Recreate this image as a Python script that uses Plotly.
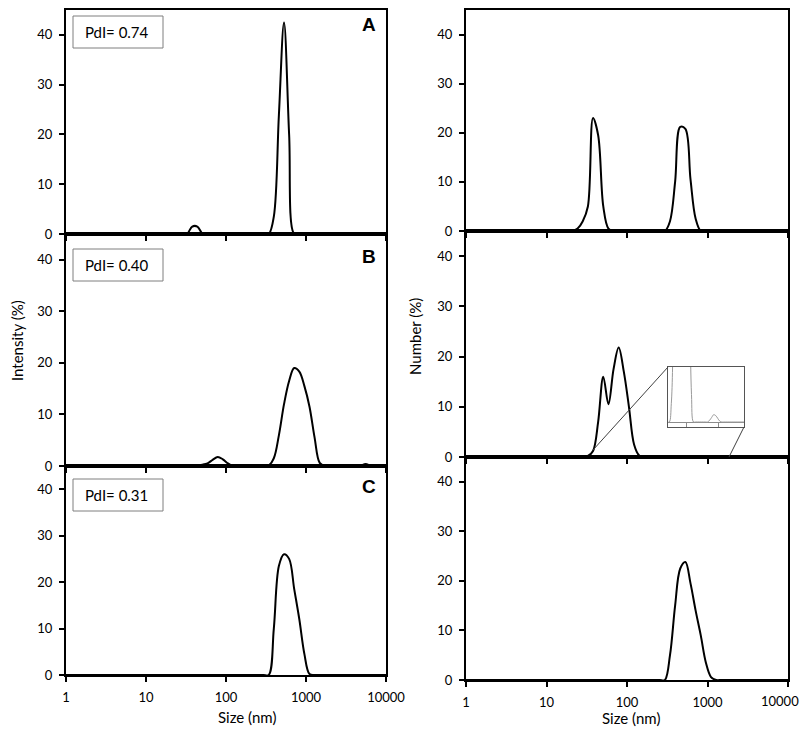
import plotly.graph_objects as go

# size classes (nm) of the DLS instrument
SIZE_NM = [
    0.9649, 1.117, 1.294, 1.499, 1.736, 2.010, 2.328, 2.696,
    3.122, 3.615, 4.187, 4.849, 5.615, 6.503, 7.531, 8.721,
    10.10, 11.70, 13.54, 15.69, 18.17, 21.04, 24.36, 28.21,
    32.67, 37.84, 43.82, 50.75, 58.77, 68.06, 78.82, 91.28,
    105.7, 122.4, 141.8, 164.2, 190.1, 220.2, 255.0, 295.3,
    342.0, 396.1, 458.7, 531.2, 615.1, 712.4, 825.0, 955.4,
    1106, 1281, 1484, 1718, 1990, 2305, 2669, 3091,
    3580, 4145, 4801, 5560, 6439, 7456, 8635, 10000,
]

# intensity distributions (%)
INT_A = [
    0, 0, 0, 0, 0, 0, 0, 0,
    0, 0, 0, 0, 0, 0, 0, 0,
    0, 0, 0, 0, 0, 0, 0, 0,
    0.05, 1.5, 1.5, 0.1, 0, 0, 0, 0,
    0, 0, 0, 0, 0, 0, 0, 0,
    0, 3.5, 24, 42.5, 20, 0, 0, 0,
    0, 0, 0, 0, 0, 0, 0, 0,
    0, 0, 0, 0, 0, 0, 0, 0,
]
INT_B = [
    0, 0, 0, 0, 0, 0, 0, 0,
    0, 0, 0, 0, 0, 0, 0, 0,
    0, 0, 0, 0, 0, 0, 0, 0,
    0.05, 0.1, 0.15, 0.25, 0.5, 1.2, 1.75, 1.3,
    0.5, 0, 0, 0, 0, 0, 0, 0,
    0.1, 1.5, 6, 12, 16.5, 19, 18.3, 15.5,
    11.5, 5.5, 0.6, 0, 0, 0, 0, 0,
    0, 0, 0, 0.4, 0, 0, 0, 0,
]
INT_C = [
    0, 0, 0, 0, 0, 0, 0, 0,
    0, 0, 0, 0, 0, 0, 0, 0,
    0, 0, 0, 0, 0, 0, 0, 0,
    0, 0, 0, 0, 0, 0, 0, 0,
    0, 0, 0, 0, 0, 0, 0, 0,
    0, 10, 23.5, 26, 25, 18.5, 12, 4.5,
    0.2, 0, 0, 0, 0, 0, 0, 0,
    0, 0, 0, 0, 0, 0, 0, 0,
]

# number distributions (%)
NUM_A = [
    0, 0, 0, 0, 0, 0, 0, 0,
    0, 0, 0, 0, 0, 0, 0, 0,
    0, 0, 0, 0, 0, 0, 0.5, 2,
    5, 23, 19.5, 5, 0.5, 0, 0, 0,
    0, 0, 0, 0, 0, 0, 0, 0,
    2, 10, 21.2, 20.8, 10.5, 2.5, 0, 0,
    0, 0, 0, 0, 0, 0, 0, 0,
    0, 0, 0, 0, 0, 0, 0, 0,
]
NUM_B = [
    0, 0, 0, 0, 0, 0, 0, 0,
    0, 0, 0, 0, 0, 0, 0, 0,
    0, 0, 0, 0, 0, 0, 0, 0,
    0.2, 1.2, 7, 16, 10.5, 17.5, 21.8, 17,
    10, 2.5, 0.3, 0, 0, 0, 0, 0,
    0, 0, 0, 0.02, 0.05, 0.08, 0.07, 0.04,
    0.01, 0, 0, 0, 0, 0, 0, 0,
    0, 0, 0, 0, 0, 0, 0, 0,
]
NUM_C = [
    0, 0, 0, 0, 0, 0, 0, 0,
    0, 0, 0, 0, 0, 0, 0, 0,
    0, 0, 0, 0, 0, 0, 0, 0,
    0, 0, 0, 0, 0, 0, 0, 0,
    0, 0, 0, 0, 0, 0, 0, 0,
    5, 15, 22.5, 23.8, 19.5, 14, 9, 3.5,
    0.6, 0, 0, 0, 0, 0, 0, 0,
    0, 0, 0, 0, 0, 0, 0, 0,
]

PDI_LABELS = ["PdI= 0.74", "PdI= 0.40", "PdI= 0.31"]
PANEL_LETTERS = ["A", "B", "C"]
X_TICKS = [1, 10, 100, 1000, 10000]
Y_TICKS = [0, 10, 20, 30, 40]

# page is 809x737; the body keeps its 8px margin, so the figure is 16px smaller
PAGE_W, PAGE_H, BODY = 809, 737, 8
W, H = PAGE_W - 2 * BODY, PAGE_H - 2 * BODY
FONT = "Lato, 'Open Sans', sans-serif"
TEXT = {"size": 15, "color": "black", "family": FONT}


def px(x):
    # page pixel -> paper x
    return (x - BODY) / W


def py(y):
    # page pixel -> paper y
    return min(1.0, 1 - (y - BODY) / H)


fig = go.Figure()

# (series, x-domain in px, y-domain in px (top, bottom))
panels = [
    (INT_A, (66, 386), (10, 234)),
    (INT_B, (66, 386), (234, 466)),
    (INT_C, (66, 386), (466, 675)),
    (NUM_A, (466, 788), (10, 231)),
    (NUM_B, (466, 788), (231, 457)),
    (NUM_C, (466, 788), (457, 680)),
]

layout = {}
for i, (values, xd, yd) in enumerate(panels, start=1):
    fig.add_trace(go.Scatter(
        x=SIZE_NM, y=values, mode="lines", xaxis=f"x{i}", yaxis=f"y{i}",
        line={"color": "black", "width": 2, "shape": "spline", "smoothing": 1},
        showlegend=False, hoverinfo="skip",
    ))
    bottom = i in (3, 6)
    labels = [str(t) for t in X_TICKS]
    if i == 6:
        # the last label runs past the page edge; it is placed as text below
        labels[-1] = ""
    layout[f"xaxis{i}"] = dict(
        type="log", range=[0, 4], domain=[px(xd[0]), px(xd[1])], anchor=f"y{i}",
        tickvals=X_TICKS, ticktext=labels, ticklabelstandoff=4,
        showticklabels=bottom, ticks="outside", ticklen=5, tickwidth=1.5,
        tickcolor="black", showline=True, linecolor="black", linewidth=2,
        mirror=True, showgrid=False, zeroline=False, automargin=False,
        tickfont={"size": 13, "color": "black", "family": FONT},
    )
    layout[f"yaxis{i}"] = dict(
        range=[0, 45], domain=[py(yd[1]), py(yd[0])], anchor=f"x{i}",
        tickvals=Y_TICKS, ticks="outside", ticklen=5, tickwidth=1.5,
        ticklabelstandoff=4,
        tickcolor="black", showline=True, linecolor="black", linewidth=2,
        mirror=True, showgrid=False, zeroline=False, automargin=False,
        tickfont={"size": 13, "color": "black", "family": FONT},
    )

# zoomed inset of the number distribution in panel B
fig.add_trace(go.Scatter(
    x=SIZE_NM, y=NUM_B, mode="lines", xaxis="x7", yaxis="y7",
    line={"color": "#9a9a9a", "width": 1, "shape": "spline", "smoothing": 1},
    showlegend=False, hoverinfo="skip",
))
layout["xaxis7"] = dict(
    type="log", range=[1.41, 3.81], domain=[px(668), px(744)], anchor="y7",
    tickvals=[100, 1000], showticklabels=False, ticks="inside", ticklen=5,
    tickwidth=1, tickcolor="#8c8c8c", showline=True, linecolor="#555555",
    linewidth=1, mirror=True, showgrid=False, zeroline=False, automargin=False,
)
layout["yaxis7"] = dict(
    range=[-0.0545, 0.6], domain=[py(427), py(367)], anchor="x7",
    showticklabels=False, ticks="", showline=True, linecolor="#555555",
    linewidth=1, mirror=True, showgrid=False, zeroline=True, automargin=False,
    zerolinecolor="#8c8c8c", zerolinewidth=1,
)

shapes = [
    dict(type="line", xref="paper", yref="paper", x0=px(668), y0=py(367),
         x1=px(593), y1=py(450), line={"color": "#404040", "width": 1}),
    dict(type="line", xref="paper", yref="paper", x0=px(744), y0=py(427),
         x1=px(729), y1=py(457), line={"color": "#404040", "width": 1}),
]

annotations = []
pdi_tops = [16, 249, 479]
letter_y = [25, 256, 486]
for label, letter, top, ly in zip(PDI_LABELS, PANEL_LETTERS, pdi_tops, letter_y):
    shapes.append(dict(type="rect", xref="paper", yref="paper",
                       x0=px(73), x1=px(163), y0=py(top), y1=py(top + 32),
                       line={"color": "#7f7f7f", "width": 1}))
    annotations.append(dict(text=label, xref="paper", yref="paper",
                            x=px(83), y=py(top + 16), xanchor="left",
                            yanchor="middle", showarrow=False, font=TEXT))
    annotations.append(dict(text=f"<b>{letter}</b>", xref="paper", yref="paper",
                            x=px(368.5), y=py(ly), xanchor="center",
                            yanchor="middle", showarrow=False,
                            font={"size": 19, "color": "black",
                                  "family": "Liberation Sans, Arial, sans-serif"}))

annotations += [
    dict(text="Intensity (%)", x=px(17), y=py(341), textangle=-90, font=TEXT),
    dict(text="Number (%)", x=px(415), y=py(337), textangle=-90, font=TEXT),
    dict(text="Size (nm)", x=px(247), y=py(717), font=TEXT),
    dict(text="Size (nm)", x=px(631), y=py(718), font=TEXT),
]
for a in annotations[-4:]:
    a.update(xref="paper", yref="paper", xanchor="center", yanchor="middle",
             showarrow=False)

annotations.append(dict(text=str(X_TICKS[-1]), xref="paper", yref="paper",
                        x=1.0, y=py(701), xanchor="right", yanchor="middle",
                        showarrow=False,
                        font={"size": 13, "color": "black", "family": FONT}))

fig.update_layout(
    width=W, height=H,
    margin={"l": 0, "r": 0, "t": 0, "b": 0, "autoexpand": False},
    paper_bgcolor="white", plot_bgcolor="white",
    shapes=shapes, annotations=annotations,
    **layout,
)

fig.write_html("out.html")
